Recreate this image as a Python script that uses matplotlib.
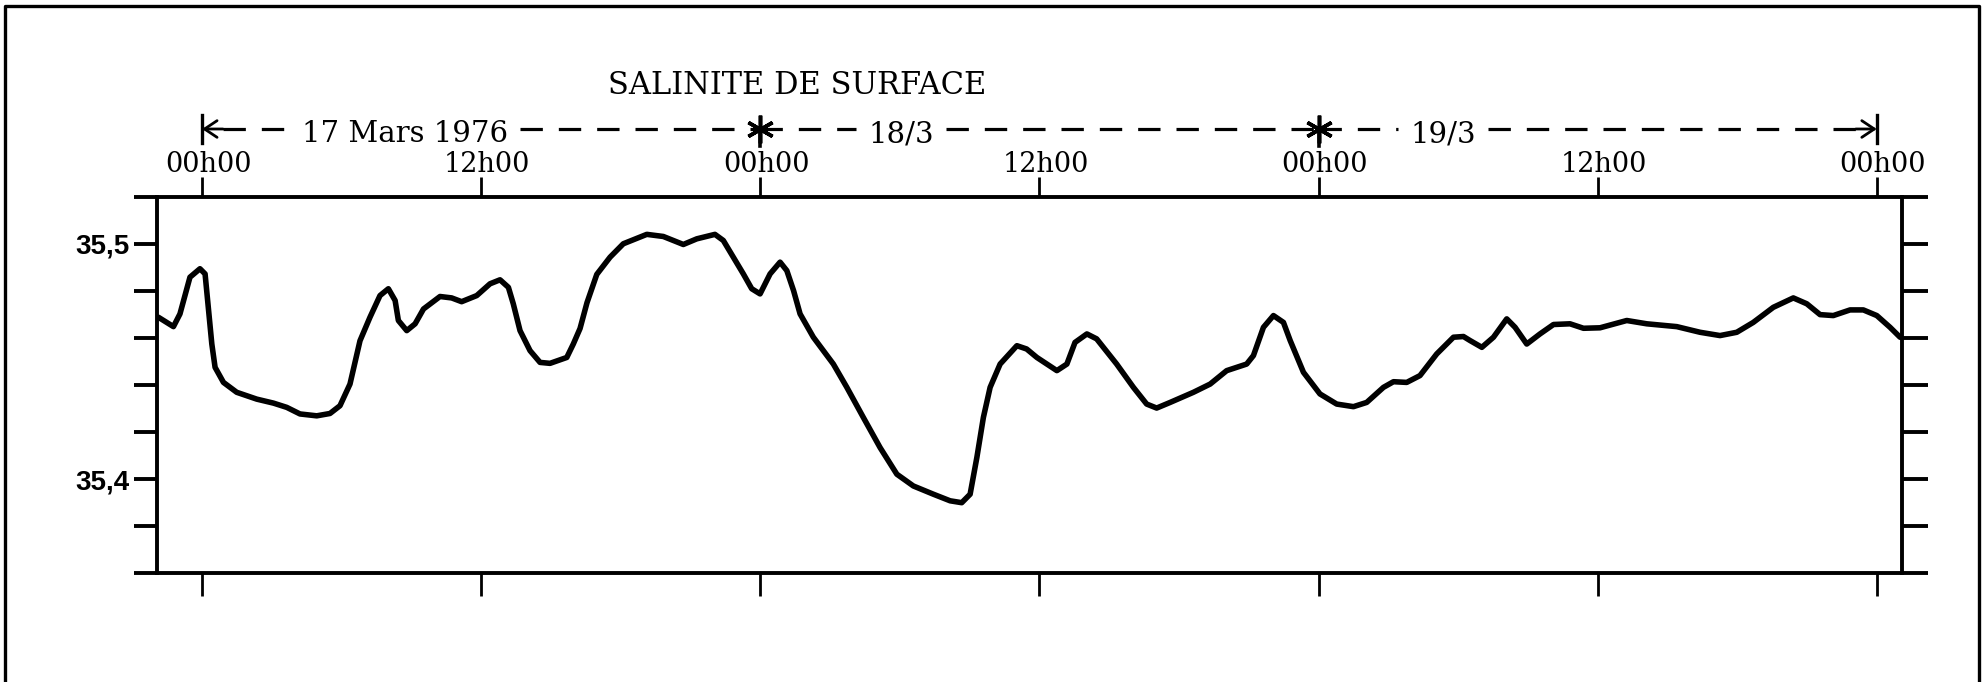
import matplotlib
matplotlib.use("Agg")
import matplotlib.pyplot as plt
import matplotlib.transforms as mtransforms
from matplotlib.lines import Line2D

# ---------------- data ----------------
hours = [-1.88, -1.23, -0.95, -0.52, -0.09, 0.13, 0.27, 0.42, 0.56, 0.92,
         1.49, 2.35, 3.07, 3.64, 4.21, 4.93, 5.50, 5.93, 6.36, 6.79,
         7.22, 7.65, 8.01, 8.30, 8.44, 8.80, 9.16, 9.52, 10.23, 10.73,
         11.16, 11.81, 12.38, 12.81, 13.17, 13.38, 13.67, 14.10, 14.53, 14.96,
         15.68, 15.96, 16.25, 16.55, 16.97, 17.54, 18.11, 19.12, 19.83, 20.69,
         21.27, 22.05, 22.41, 22.84, 23.27, 23.63, 23.99, 24.42, 24.85, 25.14,
         25.43, 25.71, 26.28, 27.14, 27.72, 28.43, 29.15, 29.87, 30.58, 31.44,
         32.16, 32.66, 33.02, 33.31, 33.59, 33.88, 34.31, 35.03, 35.45, 35.89,
         36.75, 37.18, 37.53, 38.04, 38.46, 39.32, 40.04, 40.61, 41.04, 41.62,
         42.62, 43.34, 44.05, 44.91, 45.20, 45.63, 46.06, 46.49, 46.78, 47.35,
         48.06, 48.78, 49.50, 50.07, 50.79, 51.22, 51.79, 52.36, 53.08, 53.80,
         54.23, 54.51, 55.02, 55.52, 56.09, 56.45, 56.95, 57.52, 58.10, 58.81,
         59.39, 60.10, 61.25, 62.11, 63.40, 64.40, 65.26, 65.98, 66.69, 67.55,
         68.41, 68.99, 69.56, 70.13, 70.85, 71.42, 72.00, 72.57, 73.00]
salinity = [35.4688, 35.4648, 35.4702, 35.4858, 35.4894, 35.4872, 35.4730, 35.4574, 35.4475, 35.4411,
            35.4369, 35.4340, 35.4323, 35.4305, 35.4277, 35.4269, 35.4279, 35.4312, 35.4404, 35.4588,
            35.4688, 35.4780, 35.4809, 35.4759, 35.4674, 35.4631, 35.4660, 35.4723, 35.4776, 35.4770,
            35.4754, 35.4780, 35.4830, 35.4847, 35.4815, 35.4745, 35.4631, 35.4546, 35.4496, 35.4492,
            35.4517, 35.4574, 35.4640, 35.4750, 35.4870, 35.4943, 35.5000, 35.5040, 35.5031, 35.4997,
            35.5021, 35.5040, 35.5014, 35.4943, 35.4872, 35.4809, 35.4787, 35.4872, 35.4922, 35.4886,
            35.4801, 35.4702, 35.4603, 35.4489, 35.4390, 35.4262, 35.4134, 35.4021, 35.3971, 35.3936,
            35.3908, 35.3900, 35.3936, 35.4092, 35.4262, 35.4390, 35.4489, 35.4567, 35.4553, 35.4517,
            35.4461, 35.4489, 35.4581, 35.4617, 35.4596, 35.4489, 35.4390, 35.4319, 35.4302, 35.4326,
            35.4369, 35.4404, 35.4461, 35.4489, 35.4525, 35.4645, 35.4695, 35.4666, 35.4589, 35.4454,
            35.4362, 35.4319, 35.4308, 35.4326, 35.4390, 35.4414, 35.4411, 35.4440, 35.4532, 35.4603,
            35.4606, 35.4589, 35.4560, 35.4603, 35.4681, 35.4645, 35.4574, 35.4617, 35.4657, 35.4660,
            35.4641, 35.4643, 35.4674, 35.4660, 35.4648, 35.4624, 35.4610, 35.4624, 35.4666, 35.4730,
            35.4770, 35.4745, 35.4699, 35.4695, 35.4719, 35.4719, 35.4695, 35.4645, 35.4603]

hour_ticks = [0, 12, 24, 36, 48, 60, 72]
hour_labels = ["00h00", "12h00", "00h00", "12h00", "00h00", "12h00", "00h00"]
sal_ticks = [35.36, 35.38, 35.40, 35.42, 35.44, 35.46, 35.48, 35.50, 35.52]
sal_labels = ["", "", "35,4", "", "", "", "", "35,5", ""]
day_bounds = [0, 24, 48, 72]
day_labels = ["17 Mars 1976", "18/3", "19/3"]
title = "SALINITE DE SURFACE"

# ---------------- layout ----------------
W, H = 1983, 682
fig = plt.figure(figsize=(W / 100, H / 100), dpi=100)
ax = fig.add_axes([156.7 / W, 1 - 573.3 / H, 1745 / W, 376.6 / H])

ax.plot(hours, salinity, color="black", lw=4.0,
        solid_joinstyle="round", solid_capstyle="round")
ax.set_xlim(-1.95, 73.07)
ax.set_ylim(35.36, 35.52)

for s in ax.spines.values():
    s.set_linewidth(2.8)

# x ticks: labelled on top, plain on bottom
ax.set_xticks(hour_ticks)
ax.set_xticklabels(hour_labels, fontfamily="DejaVu Serif", fontsize=19.5)
ax.tick_params(axis="x", which="major", top=True, bottom=True,
               labeltop=True, labelbottom=False, direction="out",
               length=15, width=2.0, pad=-1.5)
for t in ax.xaxis.get_major_ticks():
    t.tick1line.set_markersize(16.5)
    t.tick2line.set_markersize(14.5)
shift = mtransforms.ScaledTranslation(6 / 100, 0, fig.dpi_scale_trans)
for lab in ax.get_xticklabels(which="major"):
    lab.set_transform(lab.get_transform() + shift)

# y ticks: both sides, labels left only
ax.set_yticks(sal_ticks)
ax.set_yticklabels(sal_labels, fontfamily="Liberation Sans",
                   fontweight="bold", fontsize=20)
ax.tick_params(axis="y", which="major", left=True, right=True,
               labelleft=True, labelright=False, direction="out",
               length=16.3, width=2.8, pad=3.5)
for t in ax.yaxis.get_major_ticks():
    t.tick2line.set_markersize(19)

# ---------------- date line above the axis ----------------
blend = mtransforms.blended_transform_factory(ax.transData, ax.transAxes)
ax_h_px = 376.6
def yfrac(py):
    return (573.3 - py) / ax_h_px

y_dash = yfrac(129)
y_base = yfrac(142)
day_label_hours = [8.73, 30.05, 53.35]

renderer = fig.canvas.get_renderer()
inv = ax.transData.inverted()
spans = []
for h, lab in zip(day_label_hours, day_labels):
    t = ax.text(h, y_base, lab, transform=blend, ha="center", va="baseline",
                fontfamily="DejaVu Serif", fontsize=21, clip_on=False)
    bb = t.get_window_extent(renderer)
    gap = 12
    spans.append((inv.transform((bb.x0 - gap, 0))[0],
                  inv.transform((bb.x1 + gap, 0))[0]))

dash_kw = dict(color="black", lw=2.3, dashes=(7, 5), transform=blend,
               clip_on=False, solid_capstyle="butt")
segs = [(day_bounds[0] + 0.9, spans[0][0]), (spans[0][1], day_bounds[1]),
        (day_bounds[1], spans[1][0]), (spans[1][1], day_bounds[2]),
        (day_bounds[2], spans[2][0]), (spans[2][1], day_bounds[3] - 0.9)]
for a, b in segs:
    ax.plot([a, b], [y_dash, y_dash], **dash_kw)

# end markers: bar with open arrowhead
for end, start in [(day_bounds[0], day_bounds[0] + 0.9),
                   (day_bounds[3], day_bounds[3] - 0.9)]:
    ax.plot([end, end], [yfrac(115), yfrac(143)], color="black", lw=2.4,
            transform=blend, clip_on=False)
    ax.annotate("", xy=(end, y_dash), xycoords=blend,
                xytext=(start, y_dash), textcoords=blend,
                arrowprops=dict(arrowstyle="->,head_length=0.45,head_width=0.3",
                                lw=2.0, color="black", mutation_scale=20,
                                shrinkA=0, shrinkB=0),
                annotation_clip=False)

# asterisks at midnight boundaries
for b in day_bounds[1:3]:
    ax.plot([b], [y_dash], marker=(6, 2, 0), ms=20, mew=2.6, color="black",
            ls="none", transform=blend, clip_on=False)
    ax.plot([b, b], [y_dash, yfrac(146)], color="black", lw=2.6,
            transform=blend, clip_on=False)

# title
fig.text(797 / W, 1 - 85 / H, title, ha="center", va="center",
         fontfamily="DejaVu Serif", fontsize=22)

# outer frame (left, top, right)
fig.add_artist(Line2D([5 / W, 5 / W, 1979 / W, 1979 / W],
                      [-0.01, 1 - 6 / H, 1 - 6 / H, -0.01],
                      transform=fig.transFigure, color="black", lw=2.4))

fig.savefig("out.png", dpi=100)
